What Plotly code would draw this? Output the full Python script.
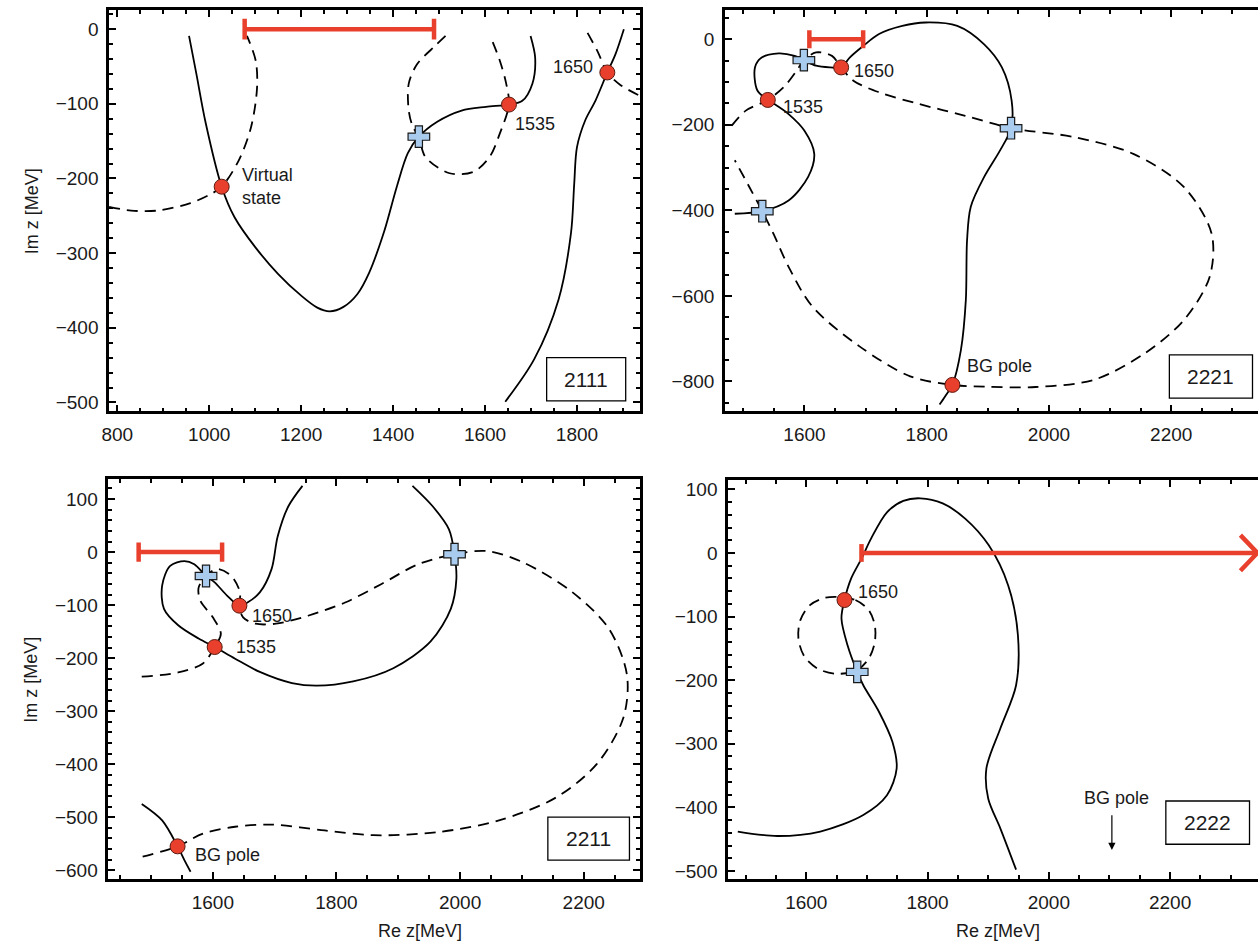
import plotly.graph_objects as go

# ---------------- data (Re z, Im z) in MeV ----------------
# Panel 2111
TL_SOLID_LEFT = [(956, -9), (972, -60), (992, -125), (1027, -211), (1055, -252), (1100, -292),
                 (1150, -328), (1200, -357), (1235, -373), (1262, -378), (1292, -372), (1322, -355),
                 (1348, -326), (1381, -270), (1408, -211), (1432, -166), (1456, -144), (1496, -124),
                 (1549, -109), (1602, -104), (1652, -101), (1681, -96), (1703, -73), (1709, -38),
                 (1699, -9)]
TL_SOLID_RIGHT = [(1644, -499), (1707, -442), (1760, -362), (1787, -273), (1794, -207), (1800, -158),
                  (1818, -122), (1840, -96), (1866, -58), (1884, -33), (1902, 0)]
TL_DASH_VIRTUAL = [(782, -238), (830, -243), (888, -243), (959, -233), (1000, -222), (1027, -211),
                   (1064, -176), (1091, -131), (1104, -78), (1101, -42), (1082, -9)]
TL_DASH_LOOP = [(1514, -9), (1492, -22), (1452, -47), (1434, -73), (1434, -109), (1443, -131),
                (1456, -144), (1470, -171), (1523, -193), (1575, -191), (1610, -171), (1632, -140),
                (1652, -101), (1646, -73), (1632, -42), (1611, -9)]
TL_DASH_RIGHT = [(1823, -5), (1845, -30), (1866, -58), (1895, -75), (1946, -92)]
TL_POLES = [(1027, -211), (1652, -101), (1866, -58)]
TL_ZEROS = [(1456, -144)]
TL_BAR = (1077, 1489)

# Panel 2221
TR_SOLID = [(1486, -408), (1531, -402), (1574, -377), (1606, -322), (1616, -268), (1600, -214),
            (1574, -175), (1549, -150), (1540, -142), (1523, -120), (1519, -66), (1530, -43),
            (1558, -33), (1584, -39), (1599, -49), (1619, -62), (1642, -66), (1660, -66),
            (1674, -43), (1696, -16), (1722, 12), (1760, 31), (1798, 39), (1850, 31), (1894, -12),
            (1923, -66), (1939, -144), (1938, -208), (1920, -260), (1894, -322), (1872, -392),
            (1866, -470), (1864, -610), (1856, -726), (1842, -808), (1830, -835), (1821, -854)]
TR_DASH = [(1481, -202), (1504, -167), (1540, -142), (1568, -109), (1587, -74), (1599, -49),
           (1619, -31), (1645, -39), (1660, -66), (1680, -97), (1722, -124), (1786, -151),
           (1863, -179), (1938, -208), (2042, -229), (2138, -268), (2221, -346), (2266, -454),
           (2263, -555), (2221, -656), (2157, -734), (2074, -796), (1978, -813), (1895, -812),
           (1842, -808), (1773, -788), (1690, -718), (1613, -625), (1574, -532), (1549, -454),
           (1531, -402), (1510, -346), (1486, -283)]
TR_POLES = [(1660, -66), (1540, -142), (1842, -808)]
TR_ZEROS = [(1599, -49), (1938, -208), (1531, -402)]
TR_BAR = (1608, 1696)

# Panel 2211
BL_SOLID_LOOP = [(1745, 125), (1722, 86), (1705, 30), (1695, -32), (1676, -76), (1656, -95),
                 (1643, -101), (1623, -82), (1603, -57), (1589, -45), (1570, -23), (1554, -17),
                 (1531, -26), (1518, -63), (1521, -107), (1544, -138), (1577, -163), (1603, -179),
                 (1636, -201), (1676, -226), (1728, -247), (1768, -252), (1827, -244), (1892, -219),
                 (1952, -169), (1985, -107), (1994, -51), (1991, -4), (1982, 43), (1956, 86),
                 (1923, 125)]
BL_SOLID_BG = [(1485, -475), (1518, -506), (1543, -555), (1554, -581), (1564, -603)]
BL_DASH = [(1485, -235), (1544, -227), (1584, -210), (1603, -179), (1613, -154), (1600, -123),
           (1580, -92), (1577, -67), (1589, -45), (1607, -32), (1630, -45), (1644, -76),
           (1643, -101), (1649, -123), (1669, -135), (1702, -135), (1754, -120), (1814, -95),
           (1873, -60), (1932, -23), (1991, -4), (2044, 2), (2103, -20), (2182, -76), (2241, -145),
           (2270, -232), (2264, -313), (2221, -400), (2155, -463), (2063, -506), (1965, -528),
           (1860, -534), (1781, -525), (1695, -514), (1636, -518), (1584, -531), (1543, -555),
           (1485, -575)]
BL_POLES = [(1643, -101), (1603, -179), (1543, -555)]
BL_ZEROS = [(1589, -45), (1991, -4)]
BL_BAR = (1480, 1615)

# Panel 2222
BR_SOLID = [(1487, -438), (1552, -445), (1623, -438), (1694, -412), (1733, -381), (1749, -339),
            (1742, -297), (1720, -250), (1694, -208), (1684, -187), (1668, -145), (1658, -103),
            (1663, -74), (1674, -40), (1691, -9), (1707, 23), (1733, 64), (1760, 82), (1788, 86),
            (1825, 78), (1862, 54), (1901, 12), (1933, -51), (1949, -129), (1946, -208),
            (1920, -276), (1897, -339), (1900, -386), (1920, -433), (1946, -498)]
BR_DASH = [(1650, -69), (1681, -74), (1703, -90), (1713, -114), (1713, -140), (1703, -166),
           (1684, -184), (1650, -190), (1619, -182), (1597, -163), (1587, -135), (1590, -106),
           (1606, -82), (1629, -71), (1650, -69)]
BR_POLES = [(1663, -74)]
BR_ZEROS = [(1684, -187)]
BR_ARROW = (1691, 2344)
BR_BG_POLE_RE = 2104

# ---------------- style ----------------
RED = "#E8402C"
BLUE = "#A9CBEE"
INK = "#1a1a1a"
FONT = "Liberation Sans, Arial, Helvetica, sans-serif"
W, H = 1258, 952

fig = go.Figure()


def xs(pts):
    return [p[0] for p in pts]


def ys(pts):
    return [p[1] for p in pts]


def curve(pts, k, dashed=False):
    fig.add_trace(go.Scatter(
        x=xs(pts), y=ys(pts), xaxis=f"x{k}", yaxis=f"y{k}", mode="lines",
        line=dict(color="black", width=1.8, shape="spline", smoothing=0.9,
                  dash="11px,7px" if dashed else "solid"),
        hoverinfo="skip", showlegend=False))


def bar(span, k, cap=14):
    a, b = span
    fig.add_trace(go.Scatter(
        x=[a, b, None, a, a, None, b, b], y=[0, 0, None, -cap, cap, None, -cap, cap],
        xaxis=f"x{k}", yaxis=f"y{k}", mode="lines",
        line=dict(color=RED, width=4.5), hoverinfo="skip", showlegend=False))


def points(poles, zeros, k):
    if zeros:
        fig.add_trace(go.Scatter(
            x=xs(zeros), y=ys(zeros), xaxis=f"x{k}", yaxis=f"y{k}", mode="markers",
            marker=dict(symbol="cross", size=18, color=BLUE, line=dict(color=INK, width=1.2)),
            hoverinfo="skip", showlegend=False, cliponaxis=False))
    fig.add_trace(go.Scatter(
        x=xs(poles), y=ys(poles), xaxis=f"x{k}", yaxis=f"y{k}", mode="markers",
        marker=dict(symbol="circle", size=15, color=RED, line=dict(color="#5a1a10", width=1)),
        hoverinfo="skip", showlegend=False, cliponaxis=False))


def label(k, x, y, text, anchor="left", size=18):
    fig.add_annotation(x=x, y=y, xref=f"x{k}", yref=f"y{k}", text=text, showarrow=False,
                       xanchor=anchor, yanchor="middle", align="left",
                       font=dict(family=FONT, size=size, color=INK))


def box(k, x0, x1, y0, y1, text):
    fig.add_shape(type="rect", xref=f"x{k}", yref=f"y{k}", x0=x0, x1=x1, y0=y0, y1=y1,
                  line=dict(color="black", width=1.3), fillcolor="white", layer="above")
    fig.add_annotation(x=(x0 + x1) / 2, y=(y0 + y1) / 2, xref=f"x{k}", yref=f"y{k}", text=text,
                       showarrow=False, xanchor="center", yanchor="middle",
                       font=dict(family=FONT, size=21, color=INK))


# Panel 2111
curve(TL_SOLID_LEFT, 1)
curve(TL_SOLID_RIGHT, 1)
curve(TL_DASH_VIRTUAL, 1, True)
curve(TL_DASH_LOOP, 1, True)
curve(TL_DASH_RIGHT, 1, True)
bar(TL_BAR, 1, 14)
points(TL_POLES, TL_ZEROS, 1)
label(1, 1066, -211, "Virtual<br>state")
label(1, 1660, -127, "1535")
label(1, 1840, -51, "1650", anchor="right")
box(1, 1734, 1906, -498, -440, "2111")

# Panel 2221
curve(TR_SOLID, 2)
curve(TR_DASH, 2, True)
bar(TR_BAR, 2, 21)
points(TR_POLES, TR_ZEROS, 2)
label(2, 1678, -74, "1650")
label(2, 1562, -158, "1535")
label(2, 1862, -765, "BG pole")
box(2, 2197, 2333, -839, -738, "2221")

# Panel 2211
curve(BL_SOLID_LOOP, 3)
curve(BL_SOLID_BG, 3)
curve(BL_DASH, 3, True)
bar(BL_BAR, 3, 18)
points(BL_POLES, BL_ZEROS, 3)
label(3, 1660, -120, "1650")
label(3, 1634, -179, "1535")
label(3, 1568, -571, "BG pole")
box(3, 2142, 2274, -581, -500, "2211")

# Panel 2222
curve(BR_SOLID, 4)
curve(BR_DASH, 4, True)
a0, a1 = BR_ARROW
fig.add_trace(go.Scatter(
    x=[a0, a1, None, a0, a0, None, a1 - 28, a1, a1 - 28],
    y=[0, 0, None, -14, 14, None, 28, 0, -28],
    xaxis="x4", yaxis="y4", mode="lines", line=dict(color=RED, width=4.5),
    hoverinfo="skip", showlegend=False, cliponaxis=False))
points(BR_POLES, BR_ZEROS, 4)
label(4, 1682, -62, "1650")
label(4, 2111, -386, "BG pole", anchor="center")
fig.add_annotation(x=BR_BG_POLE_RE, y=-467, ax=BR_BG_POLE_RE, ay=-410, xref="x4", yref="y4",
                   axref="x4", ayref="y4", text="", showarrow=True, arrowhead=2, arrowsize=1.2,
                   arrowwidth=1.2, arrowcolor="black")
box(4, 2193, 2331, -458, -390, "2222")

# ---------------- axes ----------------
PANELS = {
    1: dict(xd=(101.7, 636), yd=(9.3, 411.7), xr=(782, 1937), yr=(-512, 25.3), ydt=100, ym=20, right=True),
    2: dict(xd=(721.6, 1258), yd=(9.3, 411.7), xr=(1470, 2342), yr=(-870, 67.6), ydt=200, ym=50, right=False),
    3: dict(xd=(101, 636), yd=(480, 881), xr=(1431, 2291), yr=(-617, 137), ydt=100, ym=20, right=True),
    4: dict(xd=(724.7, 1258), yd=(481, 881), xr=(1471, 2345), yr=(-513, 114), ydt=100, ym=20, right=False),
}

layout_axes = {}
for k, p in PANELS.items():
    sx = "" if k == 1 else str(k)
    common = dict(showline=True, linecolor="black", linewidth=2.6, ticks="inside",
                  tickcolor="black", tickwidth=2, ticklen=7, showgrid=False, zeroline=False,
                  tickfont=dict(family=FONT, size=19, color=INK), ticklabelstandoff=4)
    layout_axes[f"xaxis{sx}"] = dict(
        common, domain=[p["xd"][0] / W, p["xd"][1] / W], range=list(p["xr"]), anchor=f"y{sx}",
        dtick=200, tick0=0, mirror="ticks",
        minor=dict(dtick=50, tick0=0, ticks="inside", ticklen=4, tickwidth=1.6, tickcolor="black"))
    layout_axes[f"yaxis{sx}"] = dict(
        common, domain=[1 - p["yd"][1] / H, 1 - p["yd"][0] / H], range=list(p["yr"]),
        anchor=f"x{sx}", dtick=p["ydt"], tick0=0, mirror="ticks" if p["right"] else False,
        minor=dict(dtick=p["ym"], tick0=0, ticks="inside", ticklen=4, tickwidth=1.6,
                   tickcolor="black"))

fig.update_layout(**layout_axes)

# axis titles
for yc in (210.5, 680.5):
    fig.add_annotation(x=23.5 / W, y=1 - yc / H, xref="paper", yref="paper", text="Im z [MeV]",
                       textangle=-90, showarrow=False, xanchor="center", yanchor="middle",
                       font=dict(family=FONT, size=18, color=INK))
for xc in (415, 996):
    fig.add_annotation(x=xc / W, y=1 - 933 / H, xref="paper", yref="paper", text="Re z[MeV]",
                       showarrow=False, xanchor="center", yanchor="middle",
                       font=dict(family=FONT, size=18, color=INK))

fig.update_layout(width=W, height=H, margin=dict(l=0, r=0, t=0, b=0), autosize=False,
                  paper_bgcolor="white", plot_bgcolor="white", showlegend=False)

fig.write_html("out.html")
